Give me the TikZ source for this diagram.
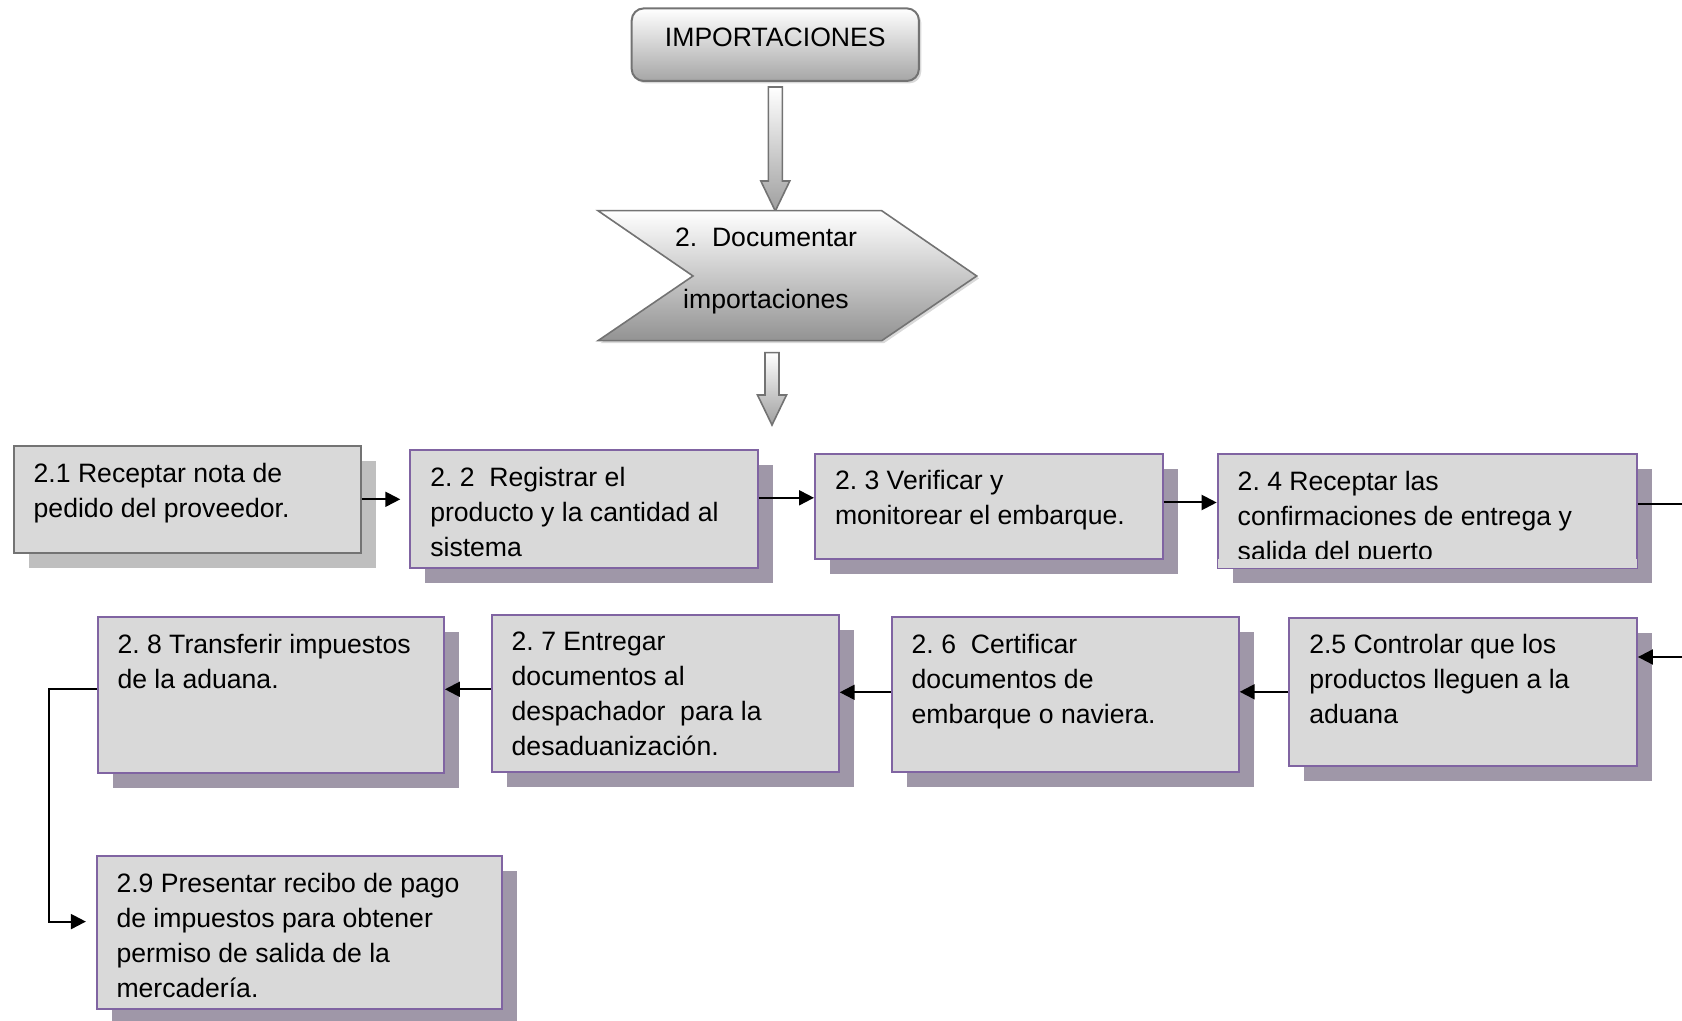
\documentclass[tikz,border=0pt]{standalone}
\usepackage{fontspec}
\setmainfont{Liberation Sans}
\usetikzlibrary{calc,shadows,arrows.meta}

\definecolor{lila}{RGB}{128,100,162}
\definecolor{gris}{RGB}{217,217,217}
\definecolor{sombra}{RGB}{159,151,168}
\definecolor{borde}{RGB}{115,115,115}

% text box with fixed size, text on top
\newcommand{\caja}[3]{\parbox[t][#2][t]{#1}{\raggedright #3}}
% block arrow pointing down: start point, length
\newcommand{\bigarrow}[2]{%
  \shadedraw[bloque] ($(#1)+(-7,0)$) -- ++(0,#2-30) -- ++(-7.5,0) -- ++(14.5,30)
    -- ++(14.5,-30) -- ++(-7.5,0) -- ++(0,30-#2) -- cycle;}

\frenchspacing

\begin{document}
\begin{tikzpicture}[x=0.5pt,y=-0.5pt,
    texto/.style={font=\fontsize{13.3}{17.5}\selectfont},
    base/.style={texto,draw=lila,fill=gris,line width=1pt,anchor=north west,
      inner xsep=10pt,inner ysep=8.5pt},
    paso/.style={base,drop shadow={shadow xshift=7.5pt,shadow yshift=-7.5pt,
      opacity=1,fill=sombra}},
    pasogris/.style={base,draw=borde,drop shadow={shadow xshift=7.5pt,
      shadow yshift=-7.5pt,opacity=1,fill=black!25}},
    titulo/.style={texto,draw=borde,line width=1pt,rounded corners=6pt,
      top color=white,bottom color=gray!70,minimum width=143.6pt,
      minimum height=36.3pt,inner sep=0pt,text height=9.5pt,text depth=7.2pt,
      drop shadow={shadow xshift=1.2pt,shadow yshift=-1.2pt,opacity=0.3}},
    bloque/.style={draw=borde,line width=0.8pt,top color=white,bottom color=gray!75},
    flujo/.style={line width=1pt,-{Triangle[length=7.5pt,width=7.5pt]}}]

\useasboundingbox (0,0) rectangle (1682,1021);

% title and first block arrow
\node[titulo] (imp) at (775.3,44.7) {IMPORTACIONES};
\coordinate (f1) at ($(imp.south)+(0,5)$);
\bigarrow{f1}{124}

% chevron
\path[draw=borde,line width=0.8pt,top color=white,bottom color=gray!85,
  drop shadow={shadow xshift=1.2pt,shadow yshift=-1.2pt,opacity=0.3}]
  (598,210.7) -- (881.7,210.7) -- (976.7,276) -- (881.7,340.7)
  -- (598,340.7) -- (693,276) -- cycle;
\node[texto,font=\fontsize{13.3}{31}\selectfont,align=center] (doc) at (766,271)
  {2.\ \ Documentar\\importaciones};
\coordinate (f2) at (772,352.7);
\bigarrow{f2}{72.3}

% first row
\node[pasogris] (b1) at (12.7,445) {\caja{153.6pt}{36.3pt}{2.1 Receptar nota de\\pedido del proveedor.}};
\node[paso] (b2) at (409.3,449) {\caja{153.7pt}{41.8pt}{2. 2\ \ Registrar el\\producto y la cantidad al\\sistema}};
\node[paso] (b3) at (814,452.7) {\caja{153.8pt}{35.8pt}{2. 3 Verificar y\\monitorear el embarque.}};
\node[paso] (b4) at (1216.7,453.3) {\caja{189.6pt}{40pt}{2. 4 Receptar las\\confirmaciones de entrega y\\salida del puerto}};
\fill[gris] ($(b4.south west)+(1,-10.6)$) rectangle ($(b4.south east)+(-1,-1)$);

% second row
\node[paso] (b5) at (1288.3,616.7) {\caja{153.8pt}{57.1pt}{2.5 Controlar que los\\productos lleguen a la\\aduana}};
\node[paso] (b6) at (890.7,616) {\caja{153.5pt}{60.3pt}{2. 6\ \ Certificar\\documentos de\\embarque o naviera.}};
\node[paso] (b7) at (490.7,614) {\caja{153.5pt}{61.3pt}{2. 7 Entregar\\documentos al\\despachador\ \ para la\\desaduanización.}};
\node[paso] (b8) at (96.5,616) {\caja{153.2pt}{61.1pt}{2. 8 Transferir impuestos\\de la aduana.}};

% last step
\node[paso] (b9) at (95.5,855) {\caja{182.7pt}{59.6pt}{2.9 Presentar recibo de pago\\de impuestos para obtener\\permiso de salida de la\\mercadería.}};

% connectors
\draw[flujo,shorten >=4.5pt] (b1.east) -- (b1.east -| b2.west);
\draw[flujo] ([yshift=5.5pt]b2.east) -- ([yshift=5.5pt]b2.east -| b3.west);
\draw[flujo] ([yshift=2pt]b3.east) -- ([yshift=2pt]b3.east -| b4.west);
\draw[flujo] ([yshift=3.8pt]b4.east) -- ++(60,0) |- ([yshift=17.4pt]b5.east);
\draw[flujo] (b5.west) -- (b5.west -| b6.east);
\draw[flujo] ([yshift=1pt]b6.west) -- ([yshift=1pt]b6.west -| b7.east);
\draw[flujo] ([yshift=2pt]b7.west) -- ([yshift=2pt]b7.west -| b8.east);
\draw[flujo] ([yshift=2.9pt]b8.west) -- ++(-47.2,0) |- ([xshift=-4.8pt,yshift=5.5pt]b9.west);

\end{tikzpicture}
\end{document}
